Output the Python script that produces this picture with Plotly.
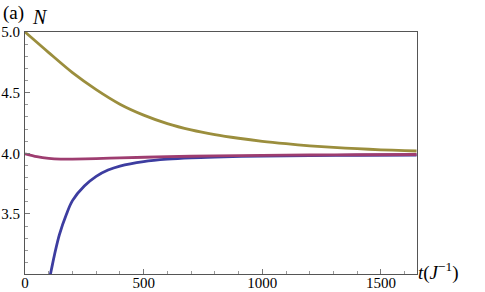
import plotly.graph_objects as go

# Data
t_gold = [0, 100, 200, 300, 400, 500, 600, 700, 800, 900, 1000, 1100, 1200, 1300, 1400, 1500, 1600, 1650]
n_gold = [5.0, 4.83, 4.665, 4.525, 4.405, 4.315, 4.245, 4.193, 4.154, 4.124, 4.099, 4.079, 4.062, 4.049, 4.038, 4.029, 4.022, 4.019]

t_blue = [100, 110, 125, 145, 175, 200, 250, 300, 350, 400, 500, 600, 700, 800, 1000, 1200, 1400, 1650]
n_blue = [2.94, 3.03, 3.17, 3.33, 3.50, 3.61, 3.73, 3.81, 3.862, 3.895, 3.932, 3.952, 3.963, 3.969, 3.977, 3.981, 3.984, 3.986]

t_mag = [0, 50, 100, 150, 200, 300, 400, 600, 800, 1000, 1200, 1400, 1650]
n_mag = [3.996, 3.972, 3.958, 3.952, 3.952, 3.956, 3.962, 3.972, 3.979, 3.983, 3.986, 3.988, 3.990]

x_ticks = [0, 500, 1000, 1500]
x_labels = ["0", "500", "1000", "1500"]
y_ticks = [3.5, 4.0, 4.5, 5.0]
y_labels = ["3.5", "4.0", "4.5", "5.0"]

BLUE = "rgb(61,61,160)"
MAG = "rgb(158,61,112)"
GOLD = "rgb(155,142,61)"

SERIF = "'Liberation Serif', 'DejaVu Serif', 'Times New Roman', serif"

FW, FH = 485, 292
L, R, T, B = 25, 68, 32, 18
W = FW - L - R
H = FH - T - B

def px(x):
    return (x - L) / W
def py(y):
    return (FH - B - y) / H

fig = go.Figure()
fig.add_trace(go.Scatter(x=t_blue, y=n_blue, mode="lines", line=dict(color=BLUE, width=2.8, shape="spline", smoothing=0.9)))
fig.add_trace(go.Scatter(x=t_mag, y=n_mag, mode="lines", line=dict(color=MAG, width=2.8, shape="spline", smoothing=0.8)))
fig.add_trace(go.Scatter(x=t_gold, y=n_gold, mode="lines", line=dict(color=GOLD, width=2.8, shape="spline", smoothing=0.8)))

font = dict(family=SERIF, size=15, color="black")

fig.update_layout(
    width=FW, height=FH,
    margin=dict(l=L, r=R, t=T, b=B, autoexpand=False),
    paper_bgcolor="white", plot_bgcolor="white",
    showlegend=False,
    font=font,
    xaxis=dict(range=[0, 1652], showgrid=False, zeroline=False, automargin=False,
               showline=True, linecolor="#555", linewidth=1, mirror=True,
               tickmode="array", tickvals=x_ticks, ticktext=x_labels,
               ticks="inside", ticklen=5, tickcolor="#777", tickfont=font, ticklabelstandoff=-5,
               minor=dict(ticks="inside", ticklen=3, dtick=100, tick0=0, tickcolor="#999", showgrid=False)),
    yaxis=dict(range=[3.005, 5.0], showgrid=False, zeroline=False, automargin=False,
               showline=True, linecolor="#555", linewidth=1, mirror=True,
               tickmode="array", tickvals=y_ticks, ticktext=y_labels,
               ticks="inside", ticklen=5, tickcolor="#777", tickfont=font, ticklabelstandoff=1,
               minor=dict(ticks="inside", ticklen=3, dtick=0.1, tick0=3.0, tickcolor="#999", showgrid=False)),
    annotations=[
        dict(text="(a)", x=px(13), y=py(13), xref="paper", yref="paper", showarrow=False,
             xanchor="center", yanchor="middle",
             font=dict(family=SERIF, size=19, color="black")),
        dict(text="<i>N</i>", x=px(40), y=py(17), xref="paper", yref="paper", showarrow=False,
             xanchor="center", yanchor="middle",
             font=dict(family=SERIF, size=20, color="black")),
        dict(text="<i>t</i>(<i>J</i><sup>−1</sup>)", x=px(416), y=py(271), xref="paper", yref="paper",
             showarrow=False, xanchor="left", yanchor="middle",
             font=dict(family=SERIF, size=19, color="black")),
    ],
)

# remove the browser's default 8px body margin so the figure sits at the page origin
fig.write_html("out.html", config={"displayModeBar": False},
               post_script="document.body.style.margin='0px';")
